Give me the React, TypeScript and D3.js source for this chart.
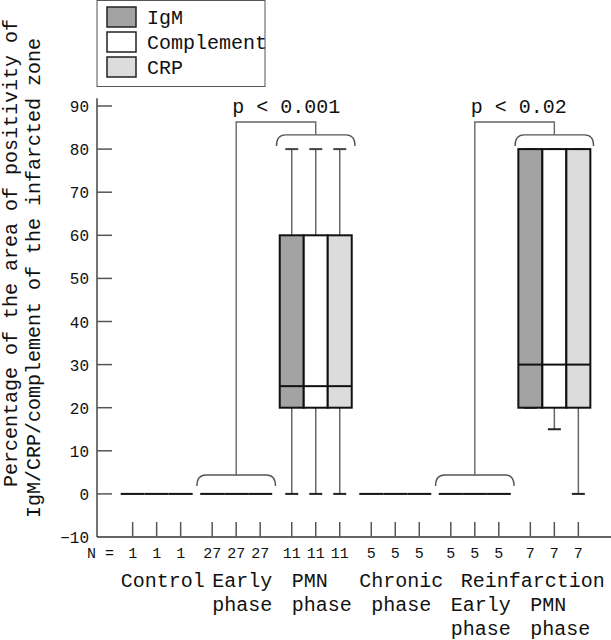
import React from "react";
import * as d3 from "d3";

const groups = [
  "Control",
  "Early phase",
  "PMN phase",
  "Chronic phase",
  "Reinfarction Early phase",
  "Reinfarction PMN phase",
];
const groupLabelLines = [
  ["Control"],
  ["Early", "phase"],
  ["PMN", "phase"],
  ["Chronic", "phase"],
  ["Early", "phase"],
  ["PMN", "phase"],
];
const spanningLabel = "Reinfarction";
const series = ["IgM", "Complement", "CRP"];
const nCounts = [1, 27, 11, 5, 5, 7];

// per group, per series [IgM, Complement, CRP]
const whiskerLow = [[0, 0, 0], [0, 0, 0], [0, 0, 0], [0, 0, 0], [0, 0, 0], [20, 15, 0]];
const q1 = [[0, 0, 0], [0, 0, 0], [20, 20, 20], [0, 0, 0], [0, 0, 0], [20, 20, 20]];
const median = [[0, 0, 0], [0, 0, 0], [25, 25, 25], [0, 0, 0], [0, 0, 0], [30, 30, 30]];
const q3 = [[0, 0, 0], [0, 0, 0], [60, 60, 60], [0, 0, 0], [0, 0, 0], [80, 80, 80]];
const whiskerHigh = [[0, 0, 0], [0, 0, 0], [80, 80, 80], [0, 0, 0], [0, 0, 0], [80, 80, 80]];

const yTicks = [-10, 0, 10, 20, 30, 40, 50, 60, 70, 80, 90];

const comparisons = [
  { from: "Early phase", to: "PMN phase", label: "p < 0.001" },
  { from: "Reinfarction Early phase", to: "Reinfarction PMN phase", label: "p < 0.02" },
];

const yTitleLines = [
  "Percentage of the area of positivity of",
  "IgM/CRP/complement of the infarcted zone",
];

const seriesColors = ["#a3a3a3", "#ffffff", "#dcdcdc"];

const FONT = "'Liberation Mono', 'Courier New', monospace";

export default function App() {
  const W = 611;
  const H = 640;
  const axisX = 97;
  const axisY = 537;

  const y = d3.scaleLinear().domain([-10, 90]).range([537, 106]);
  const xg = d3.scalePoint<string>().domain(groups).range([97, 614]).padding(0.75);
  const xs = d3.scaleBand<string>().domain(series).range([-36, 36]);
  const bw = xs.bandwidth();
  const step = xg.step();
  const cx = (g: string, s: string) => (xg(g) as number) + (xs(s) as number) + bw / 2;

  const capW = 13;

  const boxes: React.ReactNode[] = [];
  groups.forEach((g, gi) => {
    series.forEach((s, si) => {
      const x0 = (xg(g) as number) + (xs(s) as number);
      const c = cx(g, s);
      const lo = whiskerLow[gi][si];
      const hi = whiskerHigh[gi][si];
      const b1 = q1[gi][si];
      const b3 = q3[gi][si];
      const md = median[gi][si];
      const hasBox = b3 > b1;
      const key = `${gi}-${si}`;
      if (hasBox) {
        boxes.push(
          <g key={key}>
            <line x1={c} x2={c} y1={y(hi)} y2={y(b3)} stroke="#666" strokeWidth={1.5} />
            <line x1={c} x2={c} y1={y(b1)} y2={y(lo)} stroke="#666" strokeWidth={1.5} />
            <line x1={c - capW / 2} x2={c + capW / 2} y1={y(hi)} y2={y(hi)} stroke="#444" strokeWidth={2} />
            <line x1={c - capW / 2} x2={c + capW / 2} y1={y(lo)} y2={y(lo)} stroke="#222" strokeWidth={2} />
            <rect x={x0} y={y(b3)} width={bw} height={y(b1) - y(b3)} fill={seriesColors[si]} stroke="#111" strokeWidth={2} />
            <line x1={x0} x2={x0 + bw} y1={y(md)} y2={y(md)} stroke="#111" strokeWidth={2} />
          </g>
        );
      } else {
        boxes.push(
          <line key={key} x1={x0} x2={x0 + bw} y1={y(md)} y2={y(md)} stroke="#111" strokeWidth={2} />
        );
      }
    });
  });

  const brace = (xc: number, yTop: number, half: number, drop: number, r: number) => {
    const x0 = xc - half;
    const x1 = xc + half;
    const p = d3.path();
    p.moveTo(x0, yTop + drop);
    p.quadraticCurveTo(x0, yTop, x0 + r, yTop);
    p.lineTo(x1 - r, yTop);
    p.quadraticCurveTo(x1, yTop, x1, yTop + drop);
    return p.toString();
  };

  const braceHalf = step / 2 - 0.5;
  const lowBraceTop = y(4.4);
  const highBraceTop = y(83.3);
  const connectorY = y(86.3);

  const labelRowY = [587, 611, 635];

  return (
    <svg
      width={W}
      height={H}
      style={{ position: "absolute", left: 0, top: 0, background: "#fff" }}
      fontFamily={FONT}
    >
      <rect x={0} y={0} width={W} height={H} fill="#fff" />

      {/* Y title */}
      <text transform={`translate(17,487) rotate(-90)`} fontSize={20} fill="#111">
        {yTitleLines[0]}
      </text>
      <text transform={`translate(40,518) rotate(-90)`} fontSize={20} fill="#111">
        {yTitleLines[1]}
      </text>

      {/* Axes */}
      <line x1={axisX} x2={axisX} y1={y(91.8)} y2={axisY} stroke="#444" strokeWidth={1.5} />
      <line x1={axisX} x2={W} y1={axisY} y2={axisY} stroke="#333" strokeWidth={1.5} />
      {yTicks.map((t) => (
        <g key={t}>
          {t > -10 && (
            <line x1={axisX} x2={axisX + 15} y1={y(t)} y2={y(t)} stroke="#555" strokeWidth={1.5} />
          )}
          <text x={89} y={y(t) + 6} textAnchor="end" fontSize={16} fill="#111">
            {t < 0 ? `\u2212${Math.abs(t)}` : t}
          </text>
        </g>
      ))}

      {/* X ticks and N labels */}
      <text x={87} y={558} fontSize={15} fill="#111">N =</text>
      {groups.map((g, gi) =>
        series.map((s) => (
          <g key={`${g}-${s}`}>
            <line x1={cx(g, s)} x2={cx(g, s)} y1={axisY} y2={axisY - 15} stroke="#555" strokeWidth={1.5} />
            <text x={cx(g, s)} y={558} textAnchor="middle" fontSize={15} fill="#111">
              {nCounts[gi]}
            </text>
          </g>
        ))
      )}

      {/* Group labels */}
      {groups.map((g, gi) => {
        const isReinf = gi >= 4;
        return groupLabelLines[gi].map((ln, li) => {
          const wText = Math.max(ln.length * 12, 60);
          const x = (xg(g) as number) + 6 - wText / 2;
          return (
            <text key={`${g}-${li}`} x={x} y={labelRowY[li + (isReinf ? 1 : 0)]} fontSize={20} fill="#111">
              {ln}
            </text>
          );
        });
      })}
      <text x={(xg(groups[4]) as number) - 14} y={labelRowY[0]} fontSize={20} fill="#111">
        {spanningLabel}
      </text>

      {/* Boxes */}
      {boxes}

      {/* Significance brackets */}
      {comparisons.map((c) => {
        const xa = xg(c.from) as number;
        const xb = xg(c.to) as number;
        return (
          <g key={c.label}>
            <path d={brace(xa, lowBraceTop, braceHalf, 11, 9)} fill="none" stroke="#555" strokeWidth={1.4} />
            <path d={brace(xb, highBraceTop, braceHalf, 11, 9)} fill="none" stroke="#555" strokeWidth={1.4} />
            <path
              d={`M${xa},${lowBraceTop} L${xa},${connectorY} L${xb},${connectorY} L${xb},${highBraceTop}`}
              fill="none"
              stroke="#666"
              strokeWidth={1.4}
            />
            <text x={xa - 4} y={113} fontSize={20} fill="#111">
              {c.label}
            </text>
          </g>
        );
      })}

      {/* Legend */}
      <rect x={97} y={0.5} width={168} height={86} fill="#fff" stroke="#555" strokeWidth={1} />
      {series.map((s, si) => (
        <g key={s}>
          <rect x={107} y={7 + si * 25} width={29} height={20} fill={seriesColors[si]} stroke="#222" strokeWidth={1.5} />
          <text x={147} y={24 + si * 25} fontSize={20} fill="#111">
            {s}
          </text>
        </g>
      ))}
    </svg>
  );
}
